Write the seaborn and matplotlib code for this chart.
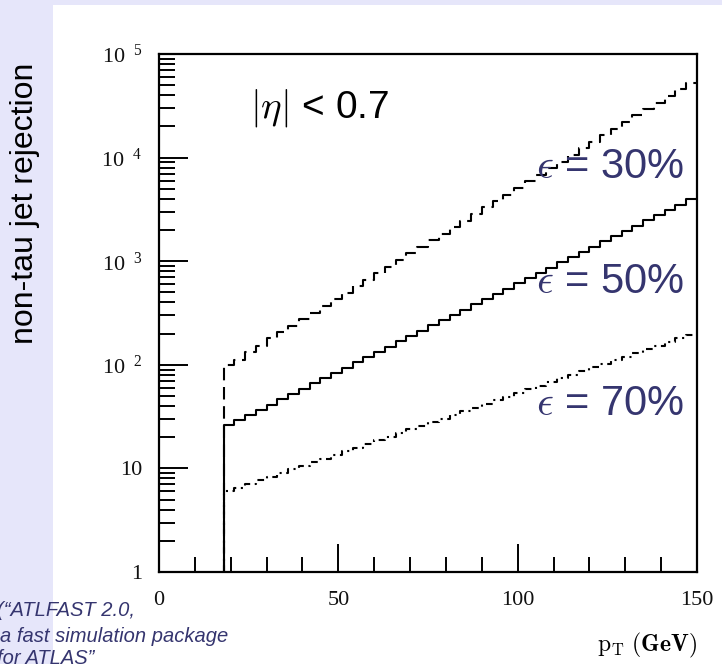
import matplotlib
matplotlib.use("Agg")
import matplotlib.pyplot as plt
from matplotlib.patches import Rectangle
from matplotlib.ticker import FixedLocator, NullFormatter
import seaborn as sns

# ---------------- data ----------------
bin_edges = [18, 21, 24, 27, 30, 33, 36, 39, 42, 45, 48, 51, 54, 57, 60, 63,
             66, 69, 72, 75, 78, 81, 84, 87, 90, 93, 96, 99, 102, 105, 108, 111,
             114, 117, 120, 123, 126, 129, 132, 135, 138, 141, 144, 147, 150]

rej_eff30 = [100, 112, 134, 152, 180, 207, 236, 277, 318, 371, 430, 494,
             575, 660, 770, 885, 1030, 1190, 1370, 1600, 1840, 2130, 2470, 2850,
             3300, 3830, 4400, 5100, 5900, 6850, 7900, 9150, 10600, 12300, 14200, 16400,
             19000, 22000, 25500, 29500, 34000, 39500, 45500, 53000]

rej_eff50 = [26, 29, 33, 37, 41, 47, 52, 59, 66, 74, 84, 94,
             106, 119, 134, 150, 169, 190, 213, 240, 269, 303, 340, 382,
             430, 483, 543, 610, 686, 771, 866, 974, 1095, 1230, 1383, 1555,
             1747, 1964, 2208, 2481, 2789, 3135, 3524, 3960]

rej_eff70 = [6.0, 6.5, 7.05, 7.65, 8.3, 9.0, 9.8, 10.6, 11.5, 12.4, 13.5, 14.6,
             15.9, 17.2, 18.7, 20.2, 21.9, 23.8, 25.8, 28.0, 30.3, 32.9, 35.7, 38.7,
             41.9, 45.5, 49.3, 53.5, 58.0, 62.9, 68.2, 74.0, 80.2, 87.0, 94.4, 102,
             111, 120, 130, 141, 153, 166, 180, 195]

series_labels = [r"$\epsilon$ = 30%", r"$\epsilon$ = 50%", r"$\epsilon$ = 70%"]
label_pos_y = [6.4e3, 4.9e2, 3.27e1]   # baseline positions of labels (data coords)
label_pos_x = 146.4

y_major = [1, 10, 100, 1000, 10000, 100000]
y_major_labels = ["1", "10", r"$\mathregular{10^{\ \ 2}}$", r"$\mathregular{10^{\ \ 3}}$",
                  r"$\mathregular{10^{\ \ 4}}$", r"$\mathregular{10^{\ \ 5}}$"]
x_major = [0, 50, 100, 150]
x_major_labels = ["0", "50", "100", "150"]
x_minor = [10, 20, 30, 40, 60, 70, 80, 90, 110, 120, 130, 140]

# ---------------- style ----------------
sns.set_style("white")
plt.rcParams["font.family"] = ["Liberation Sans", "DejaVu Sans"]
plt.rcParams["mathtext.fontset"] = "cm"

lavender = "#e6e6fa"
txt_blue = "#35356f"

fig = plt.figure(figsize=(7.22, 6.64), dpi=100, facecolor=lavender)
fig.patches.append(Rectangle((53 / 722, 0), 1 - 53 / 722, 1 - 5 / 664,
                             transform=fig.transFigure, facecolor="white",
                             edgecolor="none", zorder=-5))

ax = fig.add_axes([159 / 722, 1 - 572 / 664, (697 - 159) / 722, (572 - 54) / 664])
ax.set_zorder(2)
ax.set_facecolor("white")
ax.set_yscale("log")


def step_arrays(values):
    xs = [bin_edges[0]] + list(bin_edges)
    ys = [1] + list(values) + [values[-1]]
    return xs, ys


styles = {"30": (0, (6, 3.2)), "50": "solid", "70": (0, (3.2, 2.2, 1.0, 2.2))}
for vals, key in zip([rej_eff70, rej_eff30, rej_eff50], ["70", "30", "50"]):
    xs, ys = step_arrays(vals)
    sns.lineplot(x=xs, y=ys, ax=ax, estimator=None, sort=False, color="black",
                 linewidth=1.5, linestyle=styles[key], drawstyle="steps-post")

ax.set_xlim(0, 150)
ax.set_ylim(1, 1e5)

for s in ax.spines.values():
    s.set_visible(True)
    s.set_linewidth(1.6)
    s.set_color("black")

ax.yaxis.set_major_locator(FixedLocator(y_major))
ax.set_yticklabels(y_major_labels)
ax.yaxis.set_minor_locator(FixedLocator(
    [m * 10 ** k for k in range(5) for m in range(2, 10)]))
ax.yaxis.set_minor_formatter(NullFormatter())
ax.xaxis.set_major_locator(FixedLocator(x_major))
ax.set_xticklabels(x_major_labels)
ax.xaxis.set_minor_locator(FixedLocator(x_minor))

ax.tick_params(axis="both", which="both", direction="in", color="black",
               width=1.4, left=True, bottom=True, top=False, right=False)
ax.tick_params(axis="y", which="major", length=21, pad=12)
ax.tick_params(axis="y", which="minor", length=11.5)
ax.tick_params(axis="x", which="major", length=20, pad=14)
ax.tick_params(axis="x", which="minor", length=11)
for lab in ax.get_xticklabels() + ax.get_yticklabels():
    lab.set_fontfamily("Liberation Serif")
    lab.set_fontsize(16)
    lab.set_color("#111111")

ax.set_xlabel("")
ax.set_ylabel("")

# annotations
ax.text(25.4, 10 ** 4.385, r"$|\eta|$ < 0.7", fontsize=28, color="black",
        ha="left", va="baseline")
for lab, yy in zip(series_labels, label_pos_y):
    ax.text(label_pos_x, yy, lab, fontsize=30, color=txt_blue, ha="right",
            va="baseline")

fig.text(697 / 722, 1 - 645 / 664, r"$\mathrm{p_{T}}\ \mathbf{(GeV)}$",
         fontsize=17, ha="right", va="center", color="black")

fig.text(25 / 722, 1 - 203 / 664, "non-tau jet rejection", rotation=90,
         fontsize=23, ha="center", va="center", color="black")

cite_lines = ["(\u201cATLFAST 2.0,", "a fast simulation package", "for ATLAS\u201d"]
cite_x = [-3, 0, -3]
cite_y = [611, 636, 659]
for t, xx, yy in zip(cite_lines, cite_x, cite_y):
    fig.text(xx / 722, 1 - yy / 664, t, fontsize=14.5, style="italic",
             color=txt_blue, ha="left", va="center")

fig.savefig("out.png", dpi=100, facecolor=fig.get_facecolor())
